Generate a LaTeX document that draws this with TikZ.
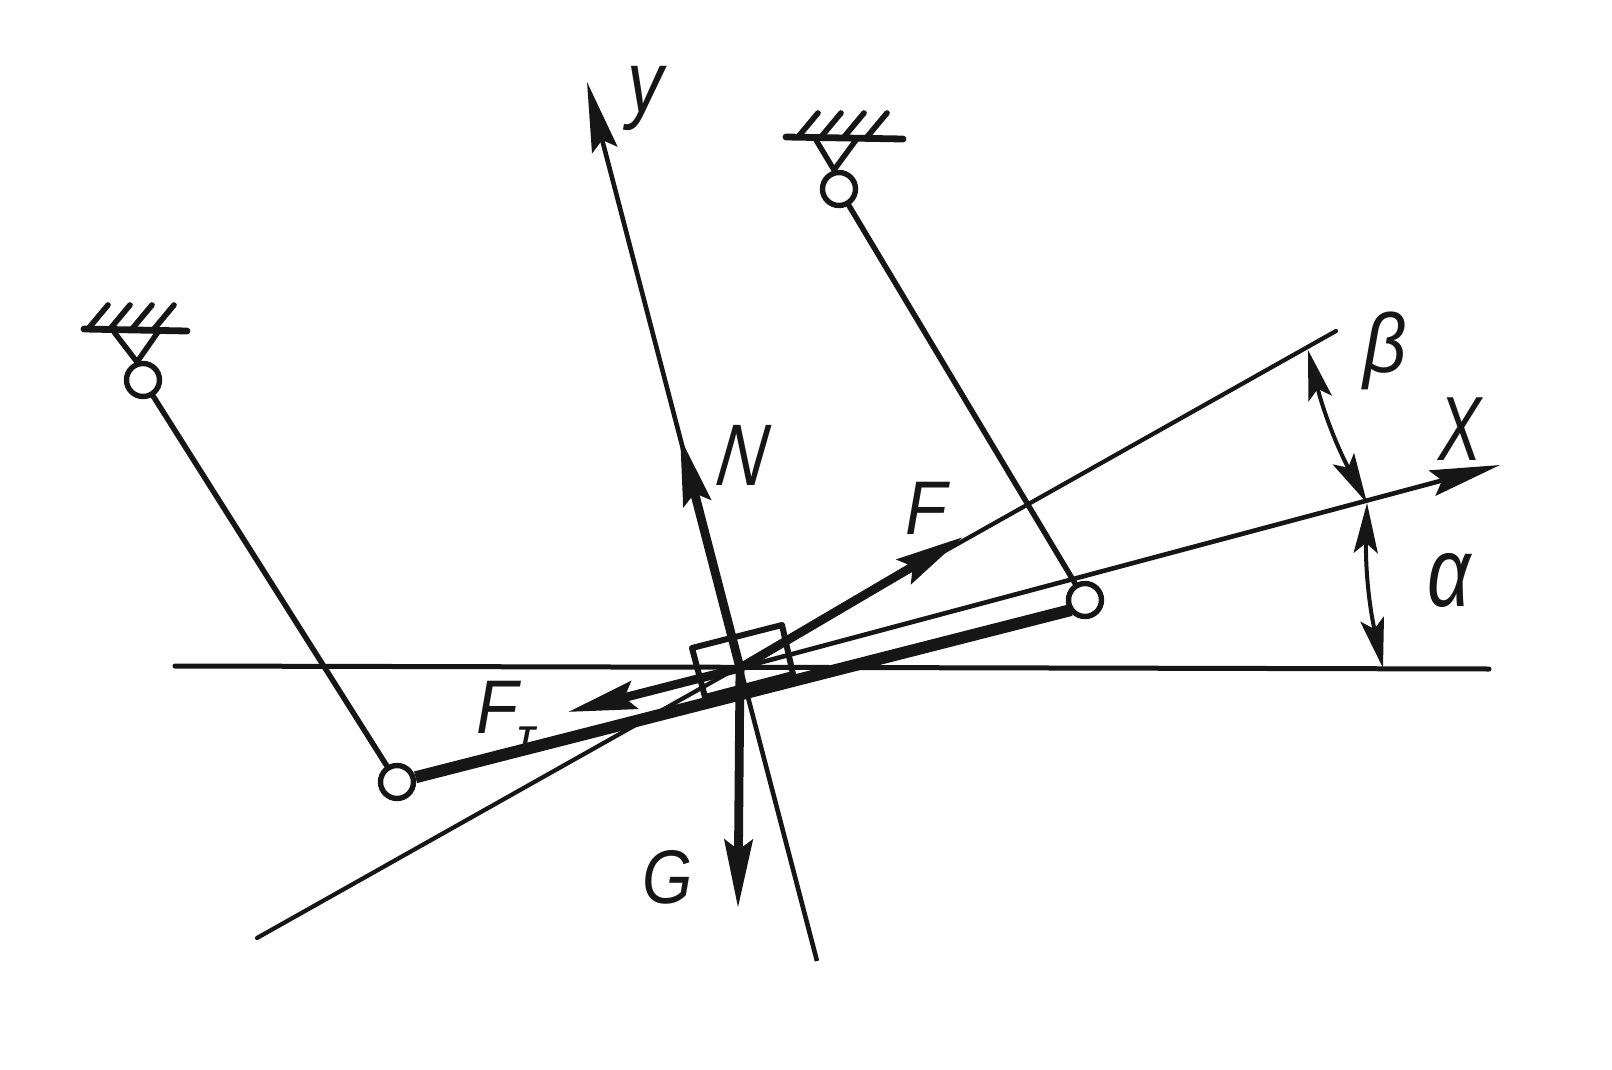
\documentclass[tikz,border=0pt]{standalone}
\usepackage{fontspec}
\setmainfont{Liberation Sans}
\usetikzlibrary{arrows.meta,calc}
\definecolor{ink}{HTML}{161616}
\tikzset{
  thinline/.style={draw=ink,line width=2.1pt,line cap=round},
  horizline/.style={draw=ink,line width=2.5pt,line cap=round},
  linkline/.style={draw=ink,line width=2.7pt,line cap=round},
  bar/.style={draw=ink,line width=6pt,line cap=butt},
  force/.style={draw=ink,line width=4.4pt,-{Stealth[length=34pt,width=14pt,inset=5pt]}},
  axisarrow/.style={draw=ink,line width=2.3pt,-{Stealth[length=35pt,width=13pt,inset=5pt]}},
  dimarc/.style={draw=ink,line width=2pt,{Stealth[length=25pt,width=12pt,inset=5pt]}-{Stealth[length=25pt,width=12pt,inset=5pt]}},
  joint/.style={circle,draw=ink,fill=white,line width=2.7pt,minimum size=16.5pt,inner sep=0pt},
  ground/.style={draw=ink,line width=3.4pt,line cap=round},
  hatchline/.style={draw=ink,line width=2.8pt,line cap=round},
  lab/.style={text=ink,font=\fontsize{38}{40}\selectfont\itshape,inner sep=0pt}
}
\begin{document}
\begin{tikzpicture}[x=0.5pt,y=-0.5pt]
\useasboundingbox (0,0) rectangle (1612,1070);
\fill[white] (0,0) rectangle (1612,1070);
% key points
\coordinate (O) at (740,668);
\coordinate (hL) at (175,666);
\coordinate (hR) at (1489,669);
\coordinate (xEnd) at (1500,465);
\coordinate (fBack) at (257,938);
\coordinate (fEnd) at (1336,331);
\coordinate (fTip) at (963,537);
\coordinate (yBack) at (817,961);
\coordinate (yTip) at (587,82);
\coordinate (nTip) at (680,437);
\coordinate (gTip) at (738,908);
\coordinate (ftTip) at (568,712);
\coordinate (aTip) at (1383,668);
\coordinate (cross) at (1367,503);
\coordinate (bTip) at (1308,350);
\coordinate (jRb) at (1071,610);
% thin lines
\draw[horizline] (hL) -- (hR);
\draw[axisarrow] (O) -- (xEnd);
\draw[thinline] (fBack) -- (fEnd);
\draw[axisarrow] (yBack) -- (yTip);
% block
\draw[draw=ink,line width=3pt,line join=round] (692,648) -- (782,625) -- (793,674) -- (705,697) -- cycle;
% bar and links
\node[joint] (jL) at (397,782) {};
\node[joint] (jR) at (1085,600) {};
\node[joint] (sL) at (143,380) {};
\node[joint] (sT) at (839,189) {};
\draw[bar] (jL) -- (jRb);
\draw[linkline] (sL) -- (jL);
\draw[linkline] (sT) -- (jR);
% forces
\draw[force] (O) -- (nTip);
\draw[force] (O) -- (fTip);
\draw[force] (O) -- (gTip);
\draw[force] (O) -- (ftTip);
% supports left
\coordinate (gLa) at (84,329);
\coordinate (gLb) at (187,331);
\coordinate (aL) at (137,362);
\draw[ground] (gLa) -- (gLb);
\foreach \i in {0,1,2,3} \draw[hatchline] ($(gLa)+(4+\i*22,0)$) -- ++(20,-24);
\draw[linkline] (114,332) -- (aL) -- (158,332);
% supports top
\coordinate (gTa) at (786,137);
\coordinate (gTb) at (903,139);
\coordinate (aT) at (834,170);
\draw[ground] (gTa) -- (gTb);
\foreach \i in {0,1,2,3} \draw[hatchline] ($(gTa)+(12+\i*23,0)$) -- ++(20,-24);
\draw[linkline] (816,140) -- (aT) -- (856,140);
% angle arcs
\draw[dimarc] (cross) to[bend right=7] (aTip);
\draw[dimarc] (cross) to[bend left=7] (bTip);
% labels
\node[lab,yscale=1.15,xscale=.95] (ly) at (646,98) {y};
\node[lab,xscale=.9,xslant=.15,yscale=1.15] (lN) at (743,455) {N};
\node[lab,xscale=.9] (lF) at (926,508) {F};
\node[lab,xscale=.9] (lFt) at (497,707) {F};
\node[text=ink,font=\fontsize{15}{17}\selectfont\itshape\bfseries,inner sep=0pt] (lT) at (526,737) {T};
\node[lab,xscale=.85] (lG) at (668,877) {G};
\node[lab,yscale=1.1] (lb) at (1385,351) {β};
\node[lab,xscale=.85,yscale=1.2] (lx) at (1460,429) {X};
\node[lab,yscale=1.3] (la) at (1449,580) {α};
\end{tikzpicture}
\end{document}
